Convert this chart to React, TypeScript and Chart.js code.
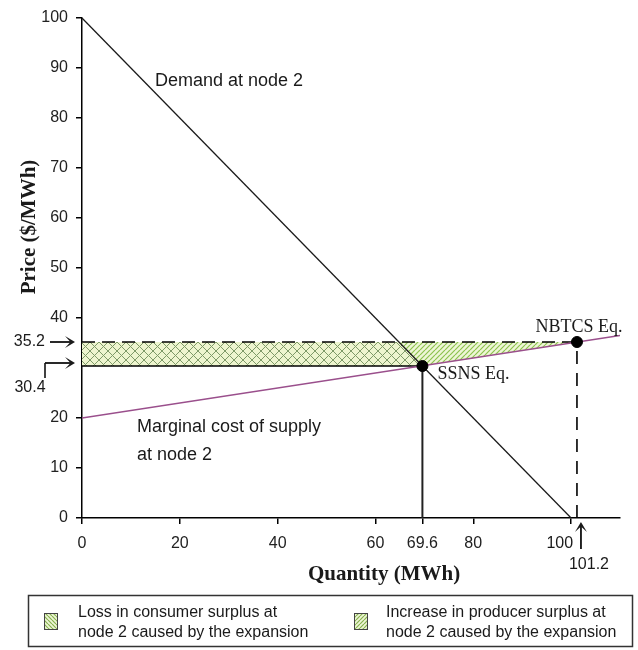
import React, { useEffect, useRef } from 'react';
import { Chart, registerables } from 'chart.js';

Chart.register(...registerables);

// ---------- data ----------
const X_TICKS = [0, 20, 40, 60, 69.6, 80, 100];
const Y_TICKS = [0, 10, 20, 40, 50, 60, 70, 80, 90, 100];
const X_MAX = 110;
const Y_MAX = 100;
const DEMAND_Q = [0, 100];
const DEMAND_P = [100, 0];
const SUPPLY_Q = [0, 110];
const SUPPLY_P = [20, 36.5];
const EQ_NAMES = ['SSNS Eq.', 'NBTCS Eq.'];
const EQ_Q = [69.6, 101.2];
const EQ_P = [30.4, 35.2];
const CONSUMER_LOSS_Q = [0, 0, 64.8, 69.6];
const CONSUMER_LOSS_P = [30.4, 35.2, 35.2, 30.4];
const PRODUCER_GAIN_Q = [64.8, 101.2, 69.6];
const PRODUCER_GAIN_P = [35.2, 35.2, 30.4];
const CURVE_LABELS = ['Demand at node 2', 'Marginal cost of supply', 'at node 2'];
const LEGEND_LABELS = [
  ['Loss in consumer surplus at', 'node 2 caused by the expansion'],
  ['Increase in producer surplus at', 'node 2 caused by the expansion'],
];
const X_TITLE = 'Quantity (MWh)';
const Y_TITLE = 'Price ($/MWh)';

const SANS = '"Liberation Sans", Arial, sans-serif';
const SERIF = '"Liberation Serif", "Times New Roman", serif';

const zip = (q: number[], p: number[]) => q.map((x, i) => ({ x, y: p[i] }));

function makePattern(kind: 'cross' | 'slash' | 'back', size: number, bg: string, fg: string, lw: number) {
  const c = document.createElement('canvas');
  c.width = size;
  c.height = size;
  const g = c.getContext('2d')!;
  g.fillStyle = bg;
  g.fillRect(0, 0, size, size);
  g.strokeStyle = fg;
  g.lineWidth = lw;
  g.beginPath();
  for (const k of [-size, 0, size]) {
    if (kind === 'slash' || kind === 'cross') {
      g.moveTo(k, size);
      g.lineTo(k + size, 0);
    }
    if (kind === 'back' || kind === 'cross') {
      g.moveTo(k, 0);
      g.lineTo(k + size, size);
    }
  }
  g.stroke();
  return g.createPattern(c, 'repeat')!;
}

function arrow(ctx: CanvasRenderingContext2D, x1: number, y1: number, x2: number, y2: number) {
  const a = Math.atan2(y2 - y1, x2 - x1);
  const c = Math.cos(a), s = Math.sin(a);
  ctx.lineWidth = 1.8;
  ctx.beginPath();
  ctx.moveTo(x1, y1);
  ctx.lineTo(x2 - 4 * c, y2 - 4 * s);
  ctx.stroke();
  const L = 10, W = 6;
  ctx.beginPath();
  ctx.moveTo(x2, y2);
  ctx.lineTo(x2 - L * c + W * s, y2 - L * s - W * c);
  ctx.lineTo(x2 - 0.45 * L * c, y2 - 0.45 * L * s);
  ctx.lineTo(x2 - L * c - W * s, y2 - L * s + W * c);
  ctx.closePath();
  ctx.fill();
}

export default function App() {
  const ref = useRef<HTMLCanvasElement>(null);

  useEffect(() => {
    const canvas = ref.current!;
    const cross = makePattern('cross', 9, '#eef5cf', '#7f9a68', 1);
    const slash = makePattern('slash', 5, '#eef6d6', '#8cc24e', 1.2);
    const legBack = makePattern('back', 4, '#eef6d6', '#86b24e', 1.2);
    const legSlash = makePattern('slash', 4, '#eef6d6', '#86b24e', 1.2);

    const deco = {
      id: 'deco',
      afterDraw(chart: any) {
        const ctx: CanvasRenderingContext2D = chart.ctx;
        const xs = chart.scales.x, ys = chart.scales.y;
        const X = (v: number) => xs.getPixelForValue(v);
        const Y = (v: number) => ys.getPixelForValue(v);
        ctx.save();
        ctx.fillStyle = '#1a1a1a';
        ctx.strokeStyle = '#111';

        // curve labels
        ctx.font = `18px ${SANS}`;
        ctx.textAlign = 'left';
        ctx.textBaseline = 'middle';
        ctx.fillText(CURVE_LABELS[0], 155, 81);
        ctx.fillText(CURVE_LABELS[1], 137, 427);
        ctx.fillText(CURVE_LABELS[2], 137, 455);

        // equilibrium labels
        ctx.font = `18px ${SERIF}`;
        ctx.fillText(EQ_NAMES[0], X(EQ_Q[0]) + 15, Y(EQ_P[0]) + 8);
        ctx.textAlign = 'center';
        ctx.fillText(EQ_NAMES[1], X(EQ_Q[1]) + 2, Y(EQ_P[1]) - 15);

        // left price annotations
        ctx.font = `16px ${SANS}`;
        ctx.textAlign = 'right';
        ctx.fillText(String(EQ_P[1]), 45, Y(EQ_P[1]));
        arrow(ctx, 50, Y(EQ_P[1]), 75, Y(EQ_P[1]));
        ctx.textAlign = 'center';
        ctx.fillText(String(EQ_P[0]), 30, Y(EQ_P[0]) + 22);
        const yA = Y(EQ_P[0]) - 3;
        ctx.lineWidth = 1.6;
        ctx.beginPath();
        ctx.moveTo(45, yA + 15);
        ctx.lineTo(45, yA);
        ctx.stroke();
        arrow(ctx, 45, yA, 75, yA);

        // bottom quantity annotations
        ctx.textAlign = 'right';
        ctx.fillText(String(X_TICKS[X_TICKS.length - 1]), X(100) + 2, 544);
        ctx.textAlign = 'center';
        ctx.fillText(String(EQ_Q[1]), X(EQ_Q[1]) + 12, 565);
        arrow(ctx, X(EQ_Q[1]) + 4, 549, X(EQ_Q[1]) + 4, 522);

        // axis titles
        ctx.font = `bold 21px ${SERIF}`;
        ctx.textAlign = 'center';
        ctx.fillText(X_TITLE, 384, 575);
        ctx.save();
        ctx.translate(30, 227);
        ctx.rotate(-Math.PI / 2);
        ctx.fillText(Y_TITLE, 0, 0);
        ctx.restore();

        // legend box
        ctx.lineWidth = 1.5;
        ctx.strokeStyle = '#333';
        ctx.strokeRect(28.5, 595.5, 604, 51);
        const items = [
          { px: 44, tx: 78, pat: legBack },
          { px: 354, tx: 386, pat: legSlash },
        ];
        items.forEach((it, i) => {
          ctx.fillStyle = it.pat;
          ctx.fillRect(it.px, 613, 13, 16);
          ctx.lineWidth = 1;
          ctx.strokeStyle = '#444';
          ctx.strokeRect(it.px + 0.5, 613.5, 13, 16);
          ctx.fillStyle = '#1a1a1a';
          ctx.font = `16px ${SANS}`;
          ctx.textAlign = 'left';
          ctx.fillText(LEGEND_LABELS[i][0], it.tx, 613);
          ctx.fillText(LEGEND_LABELS[i][1], it.tx, 633);
        });
        ctx.restore();
      },
    };

    const line = (data: any[], color: string, width: number, dash: number[] = [], order = 2) => ({
      data,
      showLine: true,
      borderColor: color,
      borderWidth: width,
      borderDash: dash,
      pointRadius: 0,
      fill: false,
      tension: 0,
      order,
    });

    const chart = new Chart(canvas, {
      type: 'scatter',
      data: {
        datasets: [
          {
            data: zip(CONSUMER_LOSS_Q, CONSUMER_LOSS_P),
            showLine: true,
            borderWidth: 0,
            borderColor: 'rgba(0,0,0,0)',
            backgroundColor: cross,
            fill: 'shape',
            pointRadius: 0,
            order: 10,
          } as any,
          {
            data: zip(PRODUCER_GAIN_Q, PRODUCER_GAIN_P),
            showLine: true,
            borderWidth: 0,
            borderColor: 'rgba(0,0,0,0)',
            backgroundColor: slash,
            fill: 'shape',
            pointRadius: 0,
            order: 9,
          } as any,
          line(zip(DEMAND_Q, DEMAND_P), '#1a1a1a', 1.3),
          line(zip(SUPPLY_Q, SUPPLY_P), '#9a4f8c', 1.3),
          line([{ x: 0, y: EQ_P[0] }, { x: EQ_Q[0], y: EQ_P[0] }], '#000', 1.6),
          line([{ x: 0, y: EQ_P[1] }, { x: EQ_Q[1], y: EQ_P[1] }], '#000', 1.6, [13, 7]),
          line([{ x: EQ_Q[0], y: 0 }, { x: EQ_Q[0], y: EQ_P[0] }], '#222', 2),
          line([{ x: EQ_Q[1], y: 0 }, { x: EQ_Q[1], y: EQ_P[1] }], '#000', 1.6, [13, 9]),
          {
            data: zip(EQ_Q, EQ_P),
            showLine: false,
            pointRadius: 5.5,
            pointBackgroundColor: '#000',
            pointBorderColor: '#000',
            order: 0,
          } as any,
        ],
      },
      options: {
        responsive: false,
        animation: false,
        devicePixelRatio: 1,
        events: [],
        layout: { padding: { top: 18, right: 18, left: 0, bottom: 0 } },
        plugins: { legend: { display: false }, tooltip: { enabled: false }, title: { display: false } },
        scales: {
          x: {
            type: 'linear',
            min: 0,
            max: X_MAX,
            afterBuildTicks: (s: any) => {
              s.ticks = X_TICKS.map((v) => ({ value: v }));
            },
            afterFit: (s: any) => {
              s.height = 132;
            },
            ticks: {
              autoSkip: false,
              maxRotation: 0,
              padding: 10,
              color: '#222',
              font: { family: SANS, size: 16 },
              callback: (v: any) => (v === 100 ? '' : String(v)),
            },
            grid: { drawOnChartArea: false, drawTicks: true, tickLength: 6, color: '#000', lineWidth: 1.5 },
            border: { display: true, color: '#000', width: 1.5 },
          },
          y: {
            type: 'linear',
            min: 0,
            max: Y_MAX,
            afterBuildTicks: (s: any) => {
              s.ticks = Y_TICKS.map((v) => ({ value: v }));
            },
            afterFit: (s: any) => {
              s.width = 82;
            },
            ticks: {
              autoSkip: false,
              padding: 8,
              color: '#222',
              font: { family: SANS, size: 16 },
            },
            grid: { drawOnChartArea: false, drawTicks: true, tickLength: 6, color: '#000', lineWidth: 1.5 },
            border: { display: true, color: '#000', width: 1.5 },
          },
        },
      } as any,
      plugins: [deco],
    });
    return () => chart.destroy();
  }, []);

  return (
    <div style={{ position: 'fixed', left: 0, top: 0, width: 638, height: 650, background: '#fff' }}>
      <canvas ref={ref} width={638} height={650} style={{ width: 638, height: 650, display: 'block' }} />
    </div>
  );
}
